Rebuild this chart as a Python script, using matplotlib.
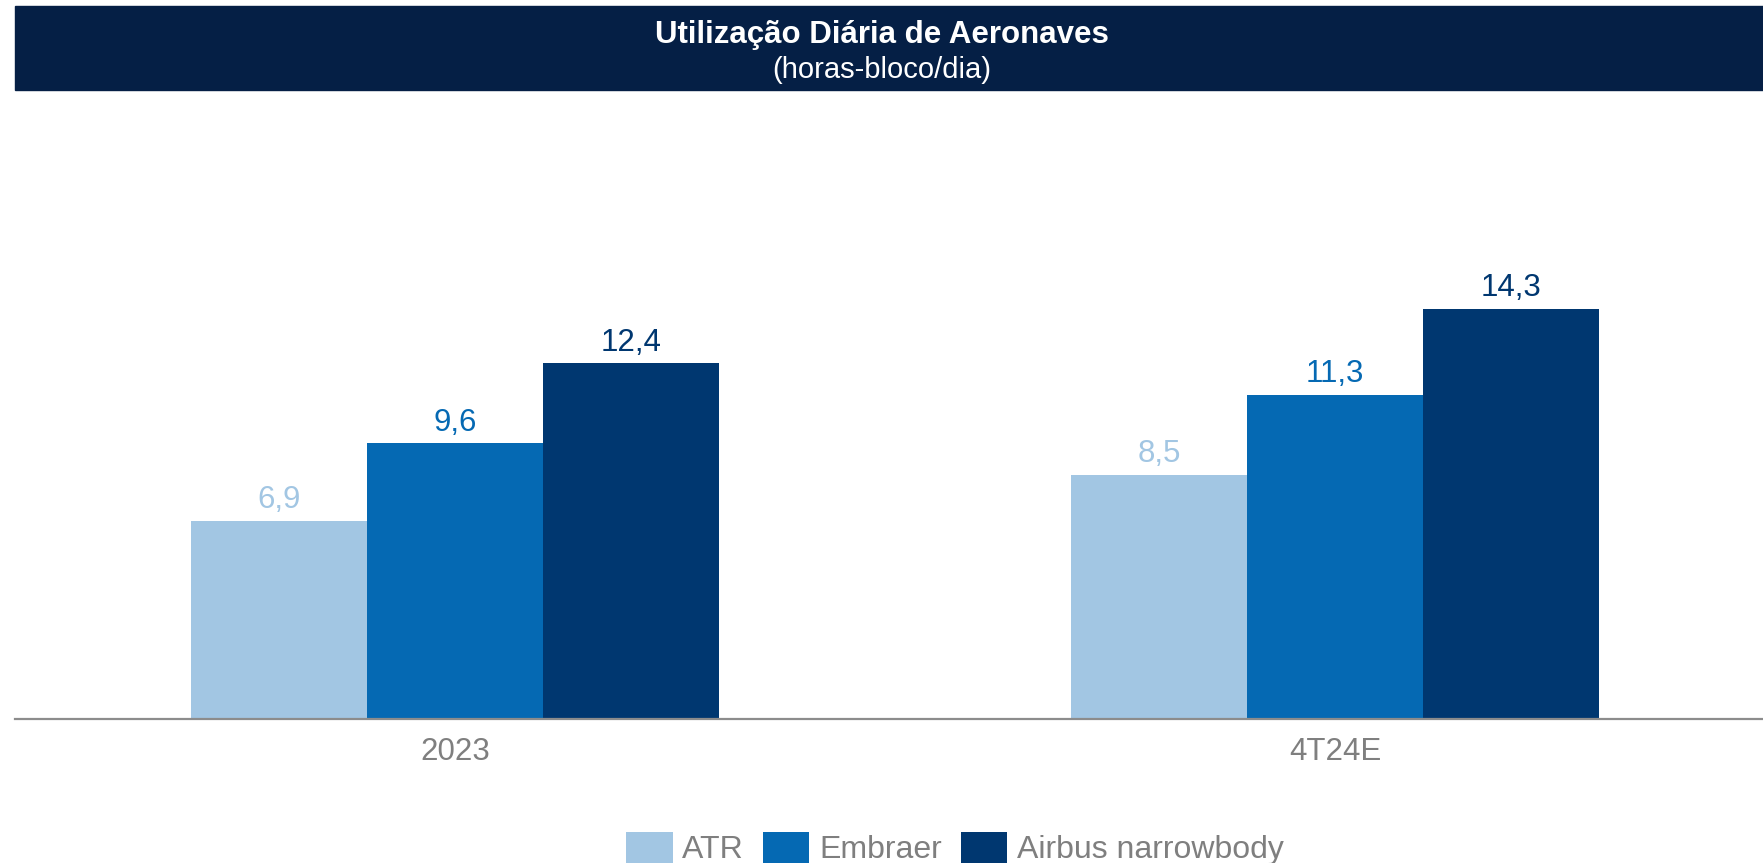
import numpy as np
import matplotlib
matplotlib.use("Agg")
from matplotlib import pyplot as plt
from matplotlib.patches import Rectangle

plt.rcParams['font.family'] = ['Liberation Sans', 'DejaVu Sans']

# data
periods = ['2023', '4T24E']
fleets = ['ATR', 'Embraer', 'Airbus narrowbody']
atr = [6.9, 8.5]
embraer = [9.6, 11.3]
airbus = [12.4, 14.3]
colors = ['#A2C6E3', '#0569B3', '#003770']

W, H = 1763, 863
fig = plt.figure(figsize=(W / 100, H / 100), dpi=100)

# title banner
fig.patches.append(Rectangle((15 / W, 1 - 90 / H), 1 - 15 / W, 84 / H,
                             transform=fig.transFigure, color='#051F45', zorder=0))
fig.text(0.5, 1 - 35.5 / H, 'Utilização Diária de Aeronaves', color='white',
         fontsize=22.5, fontweight='bold', ha='center', va='center')
fig.text(0.5, 1 - 70 / H, '(horas-bloco/dia)', color='white',
         fontsize=21, ha='center', va='center')

# axes: x from 15px to 1775px, baseline at y=719px
ymax = 16
px_per_unit = 28.7
ax = fig.add_axes([15 / W, (H - 719) / H, 1760 / W, ymax * px_per_unit / H])
ax.set_xlim(-0.5, 1.5)
ax.set_ylim(0, ymax)

x = np.arange(len(periods))
bw = 0.2
for i, (vals, name) in enumerate(zip([atr, embraer, airbus], fleets)):
    bars = ax.bar(x + (i - 1) * bw, vals, bw, color=colors[i], label=name, zorder=2)
    ax.bar_label(bars, labels=[f'{v:.1f}'.replace('.', ',') for v in vals],
                 padding=4, fontsize=22.5, color=colors[i])

for s in ['top', 'left', 'right']:
    ax.spines[s].set_visible(False)
ax.spines['bottom'].set_color('#8C8C8C')
ax.spines['bottom'].set_linewidth(1.6)
ax.set_yticks([])
ax.set_xticks(x)
ax.set_xticklabels(periods, fontsize=22.5, color='#7F7F7F')
ax.tick_params(axis='x', length=0, pad=13)

fig.legend(loc='lower center', bbox_to_anchor=(955 / W, -0.036), ncol=3, frameon=False,
           fontsize=23, labelcolor='#7F7F7F', handlelength=1.45, handleheight=1.15,
           handletextpad=0.3, columnspacing=0.6)

fig.savefig('out.png', dpi=100)
